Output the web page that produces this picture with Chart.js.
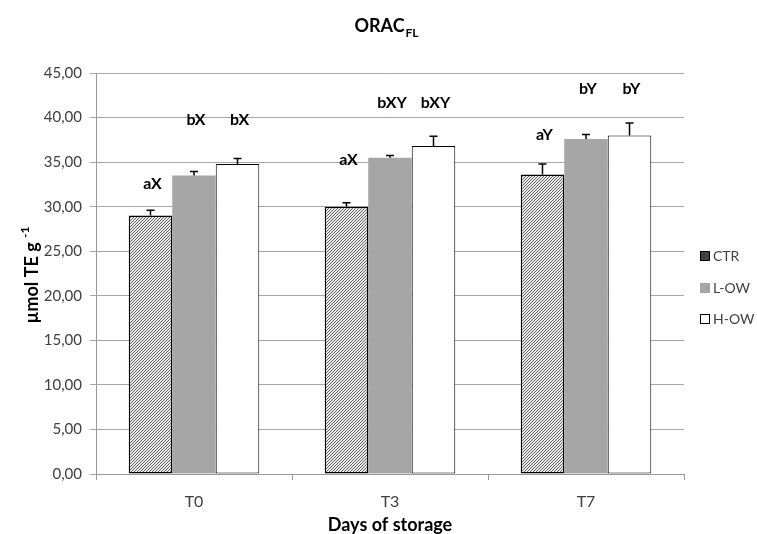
<!DOCTYPE html>
<html>
<head>
<meta charset="utf-8">
<script src="https://cdn.jsdelivr.net/npm/chart.js@4.4.0/dist/chart.umd.min.js"></script>
<style>
  body { margin: 0; background: #fff; }
</style>
</head>
<body>
<canvas id="chart" width="757" height="534"></canvas>
<script>
const categories = ['T0', 'T3', 'T7'];
const seriesNames = ['CTR', 'L-OW', 'H-OW'];
const ctrValues = [29.0, 30.0, 33.6];
const lowValues = [33.5, 35.5, 37.6];
const howValues = [34.8, 36.8, 38.0];
const ctrErrors = [0.6, 0.45, 1.2];
const lowErrors = [0.45, 0.25, 0.5];
const howErrors = [0.6, 1.1, 1.4];
const ctrLetters = ['aX', 'aX', 'aY'];
const lowLetters = ['bX', 'bXY', 'bY'];
const howLetters = ['bX', 'bXY', 'bY'];
// heights (in µmol TE g-1) where the letters sit
const ctrLetterLevel = [32.6, 35.3, 38.1];
const owLetterLevel = [39.7, 41.6, 43.2];
const yTicks = [0, 5, 10, 15, 20, 25, 30, 35, 40, 45];

const FONT = 'Lato, "Open Sans", sans-serif';
const TEXT = '#404040';

const canvas = document.querySelector('#chart');
const ctx = canvas.getContext('2d');

function makeHatch() {
    const c = document.createElement('canvas');
    c.width = 3;
    c.height = 3;
    const g = c.getContext('2d');
    g.fillStyle = '#ececec';
    g.fillRect(0, 0, 3, 3);
    g.strokeStyle = '#505050';
    g.lineWidth = 0.9;
    g.beginPath();
    g.moveTo(0, 3); g.lineTo(3, 0);
    g.moveTo(-1, 1); g.lineTo(1, -1);
    g.moveTo(2, 4); g.lineTo(4, 2);
    g.stroke();
    return ctx.createPattern(c, 'repeat');
}

const errors = [ctrErrors, lowErrors, howErrors];
const letters = [ctrLetters, lowLetters, howLetters];
const letterLevels = [ctrLetterLevel, owLetterLevel, owLetterLevel];
const legendColors = ['#404040', '#a6a6a6', '#ffffff'];

const extras = {
    id: 'extras',
    afterDatasetsDraw(chart) {
        const c = chart.ctx;
        const yScale = chart.scales.y;
        // error bars (upper whisker only)
        c.save();
        c.strokeStyle = '#000';
        c.lineWidth = 1.5;
        chart.data.datasets.forEach((ds, i) => {
            const meta = chart.getDatasetMeta(i);
            meta.data.forEach((bar, j) => {
                const top = yScale.getPixelForValue(ds.data[j]);
                const end = yScale.getPixelForValue(ds.data[j] + errors[i][j]);
                c.beginPath();
                c.moveTo(bar.x, top);
                c.lineTo(bar.x, end);
                c.moveTo(bar.x - 4, end);
                c.lineTo(bar.x + 4, end);
                c.stroke();
            });
        });
        // letters
        c.fillStyle = '#000';
        c.font = 'bold 16px ' + FONT;
        c.textAlign = 'center';
        c.textBaseline = 'middle';
        chart.data.datasets.forEach((ds, i) => {
            const meta = chart.getDatasetMeta(i);
            meta.data.forEach((bar, j) => {
                c.fillText(letters[i][j], bar.x + 2, yScale.getPixelForValue(letterLevels[i][j]));
            });
        });
        c.restore();
    },
    afterDraw(chart) {
        const c = chart.ctx;
        const area = chart.chartArea;
        c.save();
        c.fillStyle = '#000';
        // title with subscript
        c.font = 'bold 18px ' + FONT;
        const w1 = c.measureText('ORAC').width;
        c.font = 'bold 12px ' + FONT;
        const w2 = c.measureText('FL').width;
        const tx = 386 - (w1 + w2) / 2;
        c.textAlign = 'left';
        c.textBaseline = 'alphabetic';
        c.font = 'bold 18px ' + FONT;
        c.fillText('ORAC', tx, 32);
        c.font = 'bold 12px ' + FONT;
        c.fillText('FL', tx + w1 + 1, 37);
        // x title
        c.font = 'bold 18px ' + FONT;
        c.textAlign = 'center';
        c.textBaseline = 'middle';
        c.fillText('Days of storage', (area.left + area.right) / 2, 525);
        // y title with superscript
        c.translate(32, 275);
        c.rotate(-Math.PI / 2);
        c.font = 'bold 18px ' + FONT;
        const m1 = c.measureText('µmol TE g ').width;
        c.font = 'bold 12px ' + FONT;
        const m2 = c.measureText('-1').width;
        const sx = -(m1 + m2) / 2;
        c.textAlign = 'left';
        c.font = 'bold 18px ' + FONT;
        c.fillText('µmol TE g ', sx, 0);
        c.font = 'bold 12px ' + FONT;
        c.fillText('-1', sx + m1, -7);
        c.restore();

        // legend
        c.save();
        c.font = '14px ' + FONT;
        c.textAlign = 'left';
        c.textBaseline = 'middle';
        const legendY = [256, 288, 319];
        seriesNames.forEach((name, i) => {
            const y = legendY[i];
            c.fillStyle = legendColors[i];
            c.fillRect(700, y - 5, 10, 10);
            c.strokeStyle = i === 1 ? '#a6a6a6' : '#000';
            c.lineWidth = 1;
            c.strokeRect(700.5, y - 4.5, 9, 9);
            c.fillStyle = TEXT;
            c.fillText(name, 713, y);
        });
        c.restore();
    }
};

new Chart(ctx, {
    type: 'bar',
    data: {
        labels: categories,
        datasets: [
            {
                label: seriesNames[0],
                data: ctrValues,
                backgroundColor: makeHatch(),
                borderColor: '#000',
                borderWidth: 1.5,
                borderSkipped: false
            },
            {
                label: seriesNames[1],
                data: lowValues,
                backgroundColor: '#a6a6a6',
                borderWidth: 0
            },
            {
                label: seriesNames[2],
                data: howValues,
                backgroundColor: '#ffffff',
                borderColor: '#000',
                borderWidth: 1,
                borderSkipped: false
            }
        ]
    },
    options: {
        responsive: false,
        animation: false,
        categoryPercentage: 0.666,
        barPercentage: 1.0,
        layout: { padding: { top: 73, right: 73, left: 0, bottom: 0 } },
        plugins: {
            legend: { display: false },
            title: { display: false },
            tooltip: { enabled: false }
        },
        scales: {
            x: {
                offset: true,
                grid: { offset: true, drawOnChartArea: false, tickLength: 6, color: '#999' },
                border: { color: '#999' },
                ticks: { font: { family: FONT, size: 16 }, color: TEXT, padding: 12 },
                afterFit: (s) => { s.height = 60; }
            },
            y: {
                min: 0,
                max: 45,
                afterBuildTicks: (s) => { s.ticks = yTicks.map(v => ({ value: v })); },
                grid: { color: '#a6a6a6', tickLength: 6 },
                border: { color: '#999' },
                ticks: {
                    font: { family: FONT, size: 15 },
                    color: TEXT,
                    padding: 8,
                    callback: (v) => v.toFixed(2).replace('.', ',')
                },
                afterFit: (s) => { s.width = 96; }
            }
        }
    },
    plugins: [extras]
});
</script>
</body>
</html>
